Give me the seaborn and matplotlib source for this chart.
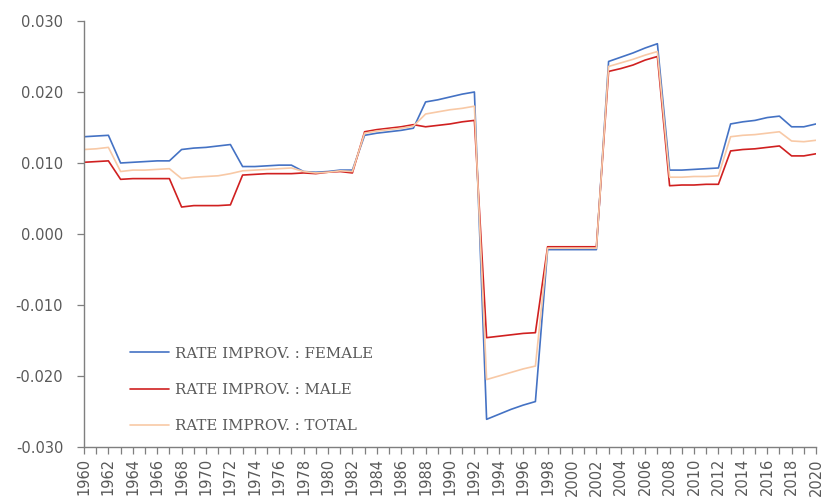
import numpy as np
import pandas as pd
import matplotlib
matplotlib.use("Agg")
import matplotlib.pyplot as plt
import seaborn as sns

years = list(range(1960, 2021))

female = [0.0137, 0.0138, 0.0139, 0.0100, 0.0101, 0.0102, 0.0103, 0.0103,
          0.0119, 0.0121, 0.0122, 0.0124, 0.0126, 0.0095, 0.0095, 0.0096,
          0.0097, 0.0097, 0.0088, 0.0087, 0.0088, 0.0090, 0.0090, 0.0139,
          0.0142, 0.0144, 0.0146, 0.0149, 0.0186, 0.0189, 0.0193, 0.0197,
          0.0200, -0.0261, -0.0254, -0.0247, -0.0241, -0.0236, -0.0022, -0.0022,
          -0.0022, -0.0022, -0.0022, 0.0243, 0.0249, 0.0255, 0.0262, 0.0268,
          0.0090, 0.0090, 0.0091, 0.0092, 0.0093, 0.0155, 0.0158, 0.0160,
          0.0164, 0.0166, 0.0151, 0.0151, 0.0155]

male = [0.0101, 0.0102, 0.0103, 0.0077, 0.0078, 0.0078, 0.0078, 0.0078,
        0.0038, 0.0040, 0.0040, 0.0040, 0.0041, 0.0083, 0.0084, 0.0085,
        0.0085, 0.0085, 0.0086, 0.0085, 0.0087, 0.0088, 0.0086, 0.0144,
        0.0147, 0.0149, 0.0151, 0.0154, 0.0151, 0.0153, 0.0155, 0.0158,
        0.0160, -0.0146, -0.0144, -0.0142, -0.0140, -0.0139, -0.0018, -0.0018,
        -0.0018, -0.0018, -0.0018, 0.0229, 0.0233, 0.0238, 0.0245, 0.0250,
        0.0068, 0.0069, 0.0069, 0.0070, 0.0070, 0.0117, 0.0119, 0.0120,
        0.0122, 0.0124, 0.0110, 0.0110, 0.0113]

total = [0.0119, 0.0120, 0.0122, 0.0088, 0.0090, 0.0090, 0.0091, 0.0092,
         0.0078, 0.0080, 0.0081, 0.0082, 0.0085, 0.0089, 0.0090, 0.0091,
         0.0092, 0.0093, 0.0088, 0.0086, 0.0087, 0.0089, 0.0088, 0.0142,
         0.0145, 0.0147, 0.0149, 0.0152, 0.0169, 0.0172, 0.0175, 0.0177,
         0.0180, -0.0205, -0.0200, -0.0195, -0.0190, -0.0186, -0.0020, -0.0020,
         -0.0020, -0.0020, -0.0020, 0.0236, 0.0241, 0.0246, 0.0252, 0.0257,
         0.0080, 0.0080, 0.0081, 0.0081, 0.0082, 0.0137, 0.0139, 0.0140,
         0.0142, 0.0144, 0.0131, 0.0130, 0.0132]

labels = ["RATE IMPROV. : FEMALE", "RATE IMPROV. : MALE", "RATE IMPROV. : TOTAL"]
colors = ["#4472C4", "#D02020", "#F8C9A6"]

df = pd.DataFrame({"year": years * 3,
                   "value": female + male + total,
                   "series": [labels[0]] * len(years) + [labels[1]] * len(years) + [labels[2]] * len(years)})

sns.set_style("white")
grey = "#595959"

fig = plt.figure(figsize=(8.31, 5.04), dpi=100)
ax = fig.add_axes([84 / 831, 1 - 447 / 504, (816 - 84) / 831, (447 - 21) / 504])

sns.lineplot(data=df, x="year", y="value", hue="series", hue_order=labels,
             palette=colors, linewidth=1.2, ax=ax)

ax.set_xlim(1960, 2020)
ax.set_ylim(-0.030, 0.030)
ax.set_yticks(np.arange(-0.030, 0.0301, 0.010))
ax.set_yticklabels([f"{v:.3f}" for v in np.arange(-0.030, 0.0301, 0.010)])
ax.set_xticks(years)
ax.set_xticklabels([str(y) if y % 2 == 0 else "" for y in years], rotation=90)
ax.set_xlabel("")
ax.set_ylabel("")

for s in ["top", "right"]:
    ax.spines[s].set_visible(False)
for s in ["left", "bottom"]:
    ax.spines[s].set_color("#7f7f7f")
    ax.spines[s].set_linewidth(1.0)

ax.tick_params(axis="both", which="major", direction="out", length=5, width=0.9,
               color="#7f7f7f", labelcolor=grey, labelsize=10.5,
               bottom=True, left=True)
ax.tick_params(axis="y", pad=10)
ax.tick_params(axis="x", pad=3)

leg = ax.legend(loc="lower left", bbox_to_anchor=(0.045, 0.0), frameon=False,
                labelspacing=1.5, handlelength=2.6, handletextpad=0.4,
                prop={"family": "DejaVu Serif", "size": 10.8})
for t in leg.get_texts():
    t.set_color(grey)

fig.savefig("out.png", dpi=100)
